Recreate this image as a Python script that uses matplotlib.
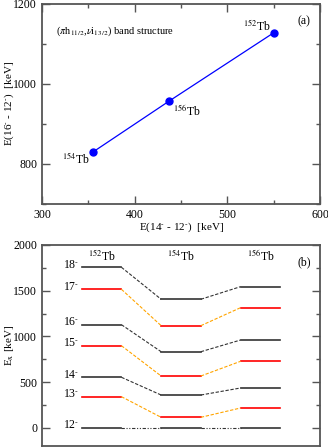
import matplotlib
matplotlib.use("Agg")
import matplotlib.pyplot as plt
from matplotlib.ticker import MultipleLocator, NullLocator

plt.rcParams['font.family'] = ['Liberation Serif', 'DejaVu Serif']
plt.rcParams['mathtext.fontset'] = 'stix'

# Panel (a) data
nuclei_a = ['154', '156', '152']
e14 = [355, 437, 550]
e16 = [830, 957, 1128]

# Panel (b) data
nuclei = ['152', '154', '156']
spins = [12, 13, 14, 15, 16, 17, 18]
levels = {
    '152': [0, 340, 552, 898, 1128, 1515, 1756],
    '154': [0, 114, 358, 566, 832, 1117, 1406],
    '156': [0, 216, 435, 727, 960, 1314, 1544],
}

axcol = '#555555'
fs = 8.5
M = r'$^{\text{-}}$'

fig = plt.figure(figsize=(3.28, 4.47), dpi=100)
W, H = 328, 447
axa = fig.add_axes([42 / W, 1 - 204 / H, 278 / W, 200 / H])
axb = fig.add_axes([42 / W, 1 - 446 / H, 278 / W, 201 / H])

def style(ax):
    for s in ax.spines.values():
        s.set_color(axcol)
        s.set_linewidth(1.3)
    ax.tick_params(which='both', direction='in', colors=axcol, labelcolor='black',
                   labelsize=fs, top=True, right=True)
    ax.tick_params(which='major', length=6, width=1)
    ax.tick_params(which='minor', length=3, width=1)

# Panel (a)
style(axa)
axa.plot(e14, e16, '-', color='blue', lw=0.9, marker='o', ms=5)
axa.set_xlim(300, 600)
axa.set_ylim(700, 1200)
axa.xaxis.set_major_locator(MultipleLocator(100))
axa.xaxis.set_minor_locator(MultipleLocator(50))
axa.yaxis.set_major_locator(MultipleLocator(200))
axa.yaxis.set_minor_locator(MultipleLocator(100))
axa.set_xlabel('E(14' + M + ' - 12' + M + ')  [keV]', fontsize=8, labelpad=0)
axa.set_ylabel('E(16' + M + ' - 12' + M + ')  [keV]', fontsize=8)
axa.yaxis.set_label_coords(-0.095, 0.5)
offs = {'154': (-22, -8), '156': (3, -10), '152': (-22, 2)}
for n, x, y in zip(nuclei_a, e14, e16):
    axa.annotate(r'$^{%s}$Tb' % n, (x, y), xytext=offs[n], textcoords='offset points',
                 fontsize=fs)
axa.text(0.05, 0.85, r'($\pi$h$_{11/2}$,$\nu$i$_{13/2}$) band structure',
         transform=axa.transAxes, fontsize=7.5)
axa.text(0.92, 0.9, '(a)', transform=axa.transAxes, fontsize=fs)

# Panel (b)
style(axb)
axb.set_xlim(0.25, 3.75)
axb.set_ylim(-200, 2000)
axb.xaxis.set_major_locator(NullLocator())
axb.yaxis.set_major_locator(MultipleLocator(500))
axb.yaxis.set_minor_locator(MultipleLocator(250))
axb.set_ylabel(r'E$_{\mathrm{x}}$ [keV]', fontsize=8)
axb.yaxis.set_label_coords(-0.095, 0.5)
hw = 0.25
for i, n in enumerate(nuclei):
    c = i + 1
    for j, s in enumerate(spins):
        col = 'red' if s % 2 == 1 else '#333333'
        axb.plot([c - hw, c + hw], [levels[n][j]] * 2, '-', color=col, lw=1.2)
    axb.text(c, 1800, r'$^{%s}$Tb' % n, ha='center', va='bottom', fontsize=fs)
for i in range(len(nuclei) - 1):
    a, b = nuclei[i], nuclei[i + 1]
    for j, s in enumerate(spins):
        if s == 12:
            col, dash = '#333333', (3, 1.5, 1, 1.5, 1, 1.5)
        elif s % 2 == 1:
            col, dash = 'orange', (3, 1.5)
        else:
            col, dash = '#333333', (3, 1.5)
        axb.plot([i + 1 + hw, i + 2 - hw], [levels[a][j], levels[b][j]], color=col,
                 lw=0.8, dashes=dash)
for j, s in enumerate(spins):
    axb.text(1 - hw - 0.03, levels['152'][j] + 30, '%d' % s + M, ha='right', va='center',
             fontsize=fs)
axb.text(0.92, 0.9, '(b)', transform=axb.transAxes, fontsize=fs)

fig.savefig('out.png', dpi=100)
